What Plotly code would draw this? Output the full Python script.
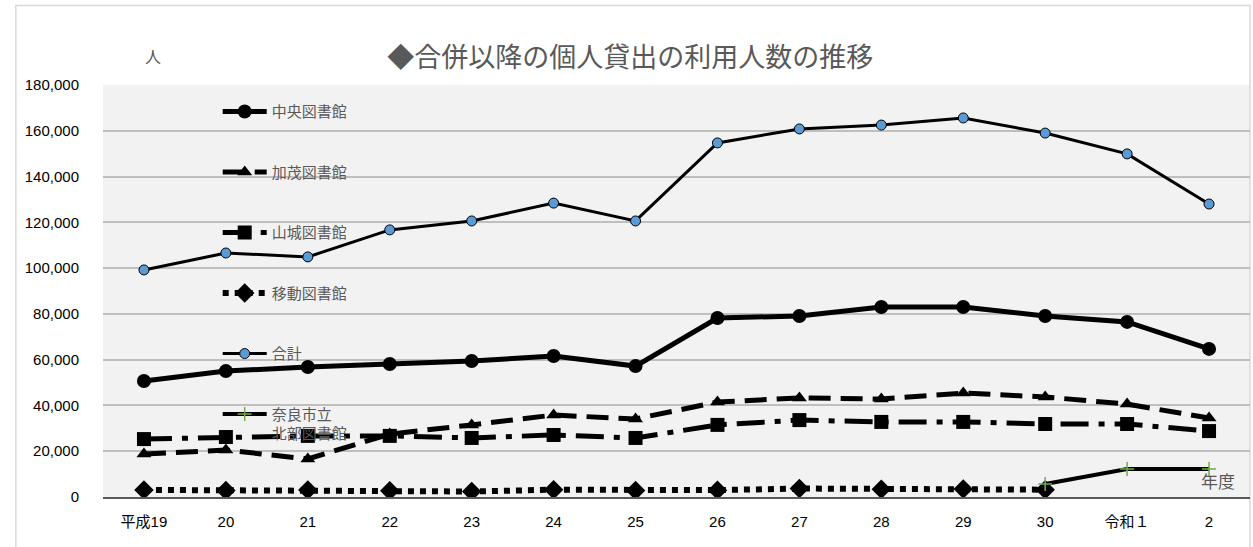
import plotly.graph_objects as go

# 年度ラベル
years = ["平成19", "20", "21", "22", "23", "24", "25", "26", "27", "28", "29", "30", "令和１", "2"]

# 個人貸出の利用人数（人）
chuo = [50700, 55000, 56800, 58100, 59400, 61600, 57200, 78200, 79100, 83000, 83000, 79100, 76500, 64700]
kamo = [18800, 20500, 16600, 27500, 31500, 35800, 34100, 41500, 43300, 42800, 45400, 43700, 40600, 34500]
yamashiro = [25300, 26200, 26700, 26700, 25800, 27100, 25800, 31500, 33600, 32800, 32800, 31900, 31900, 28800]
idou = [3100, 2800, 3100, 2700, 2400, 3200, 2800, 3000, 3700, 3400, 3500, 3200, None, None]
goukei = [99200, 106600, 104900, 116700, 120600, 128400, 120600, 154700, 160800, 162500, 165600, 159000, 149900, 128000]
nara_hokubu = [None, None, None, None, None, None, None, None, None, None, None, 5700, 12200, 12200]

y_ticks = [0, 20000, 40000, 60000, 80000, 100000, 120000, 140000, 160000, 180000]

JP = "Noto Sans CJK JP"
NUM = "Liberation Sans, Noto Sans CJK JP"
GRAY_TEXT = "#595959"

fig = go.Figure()

fig.add_trace(go.Scatter(
    x=years, y=chuo, name="中央図書館", mode="lines+markers", legendgroup="a",
    line=dict(color="black", width=5),
    marker=dict(symbol="circle", size=14, color="black"),
))
fig.add_trace(go.Scatter(
    x=years, y=kamo, name="加茂図書館", mode="lines+markers", legendgroup="b",
    line=dict(color="black", width=5, dash="22px,10px"),
    marker=dict(symbol="triangle-up", size=13, color="black"),
))
fig.add_trace(go.Scatter(
    x=years, y=yamashiro, name="山城図書館", mode="lines+markers", legendgroup="c",
    line=dict(color="black", width=5, dash="28px,10px,6px,10px"),
    marker=dict(symbol="square", size=14, color="black"),
))
fig.add_trace(go.Scatter(
    x=years, y=idou, name="移動図書館", mode="lines+markers", legendgroup="d",
    line=dict(color="black", width=6, dash="6px,6px"),
    marker=dict(symbol="diamond", size=15, color="black"),
))
fig.add_trace(go.Scatter(
    x=years, y=goukei, name="合計", mode="lines+markers", legendgroup="e",
    line=dict(color="black", width=3),
    marker=dict(symbol="circle", size=10, color="#5b9bd5", line=dict(color="black", width=1)),
))
fig.add_trace(go.Scatter(
    x=years, y=nara_hokubu, name="奈良市立<br>北部図書館", mode="lines+markers", legendgroup="f",
    line=dict(color="black", width=4),
    marker=dict(symbol="cross-thin", size=10, color="#70ad47", line=dict(color="#70ad47", width=1.5)),
))

fig.update_layout(
    width=1253, height=547,
    margin=dict(l=103, r=3, t=85, b=50),
    paper_bgcolor="white",
    plot_bgcolor="#f2f2f2",
    title=dict(
        text="◆合併以降の個人貸出の利用人数の推移",
        x=0.503, xanchor="center", y=0.895, yanchor="middle",
        font=dict(family=JP, size=27, color=GRAY_TEXT),
    ),
    legend=dict(
        x=0.1, xanchor="left", y=0.975, yanchor="top",
        bgcolor="rgba(0,0,0,0)",
        font=dict(family=JP, size=15, color=GRAY_TEXT),
        tracegroupgap=38, traceorder="grouped",
        itemwidth=44, valign="top",
    ),
    xaxis=dict(
        type="category", range=[-0.5, 13.5],
        showgrid=False, showline=True, linecolor="#595959", linewidth=1.5,
        ticks="outside", ticklen=10, tickcolor="rgba(0,0,0,0)",
        tickfont=dict(family=NUM, size=15, color="black"),
    ),
    yaxis=dict(
        range=[0, 180000], tickvals=y_ticks, tickformat=",d",
        showgrid=True, gridcolor="#bfbfbf", gridwidth=1.5, zeroline=False,
        ticks="outside", ticklen=20, tickcolor="rgba(0,0,0,0)",
        tickfont=dict(family=NUM, size=15, color="black"),
    ),
    shapes=[dict(
        type="rect", xref="paper", yref="paper",
        x0=-0.076, x1=1.0, y0=-0.2, y1=1.193,
        line=dict(color="#d9d9d9", width=1.5), fillcolor="rgba(0,0,0,0)", layer="below",
    )],
    annotations=[
        dict(text="人", xref="paper", yref="paper", x=0.044, y=1.07, xanchor="center", yanchor="middle",
             showarrow=False, font=dict(family=JP, size=16, color=GRAY_TEXT)),
        dict(text="年度", xref="paper", yref="paper", x=0.972, y=0.04, xanchor="center", yanchor="middle",
             showarrow=False, font=dict(family=JP, size=17, color=GRAY_TEXT)),
    ],
)

fig.write_html("out.html")
